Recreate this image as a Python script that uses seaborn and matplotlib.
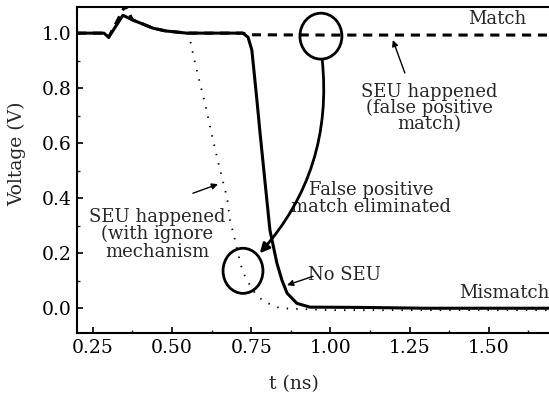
import numpy as np
import pandas as pd
import matplotlib
matplotlib.use("Agg")
import matplotlib.pyplot as plt
from matplotlib.patches import Ellipse
import seaborn as sns

# ---- data ----
t_noseu = [0.20, 0.285, 0.300, 0.345, 0.375, 0.408, 0.440, 0.480, 0.547, 0.724,
           0.740, 0.752, 0.768, 0.777, 0.793, 0.809, 0.831, 0.847, 0.863, 0.894,
           0.935, 1.10, 1.30, 1.69]
v_noseu = [1.0, 1.0, 0.985, 1.065, 1.048, 1.033, 1.018, 1.008, 1.0, 1.0,
           0.985, 0.938, 0.756, 0.647, 0.465, 0.284, 0.164, 0.102, 0.055, 0.018,
           0.004, 0.003, 0.0, 0.0]

t_fpm = [0.20, 0.285, 0.300, 0.352, 0.375, 0.408, 0.440, 0.480, 0.547, 0.72, 0.75, 1.00, 1.25, 1.69]
v_fpm = [1.0, 1.0, 0.985, 1.10, 1.048, 1.033, 1.018, 1.008, 1.0, 1.0, 0.994, 0.993, 0.993, 0.993]

t_ign = [0.547, 0.557, 0.572, 0.588, 0.604, 0.626, 0.642, 0.658, 0.674, 0.683,
         0.699, 0.715, 0.724, 0.740, 0.762, 0.778, 0.803, 0.841, 1.00, 1.69]
v_ign = [1.0, 0.975, 0.895, 0.818, 0.745, 0.629, 0.549, 0.473, 0.40, 0.32,
         0.247, 0.167, 0.131, 0.095, 0.055, 0.036, 0.018, 0.0, -0.007, -0.007]

xticks = [0.25, 0.50, 0.75, 1.00, 1.25, 1.50]
yticks = [0.0, 0.2, 0.4, 0.6, 0.8, 1.0]

sns.set_theme(style="ticks")
plt.rcParams['font.family'] = ['DejaVu Serif']
plt.rcParams['mathtext.fontset'] = 'dejavuserif'

fig = plt.figure(figsize=(5.49, 3.96), dpi=100)
ax = fig.add_axes([77/549, 63/396, 472/549, 326/396])

df_noseu = pd.DataFrame({"t": t_noseu, "v": v_noseu})
df_fpm = pd.DataFrame({"t": t_fpm, "v": v_fpm})
df_ign = pd.DataFrame({"t": t_ign, "v": v_ign})

sns.lineplot(data=df_ign, x="t", y="v", ax=ax, color="black", lw=1.3,
             linestyle=(0, (0.8, 4.5)), estimator=None, zorder=2)
sns.lineplot(data=df_fpm, x="t", y="v", ax=ax, color="black", lw=2.2,
             linestyle=(0, (3.0, 2.2)), estimator=None, zorder=3)
sns.lineplot(data=df_noseu, x="t", y="v", ax=ax, color="black", lw=2.2,
             estimator=None, zorder=4)

ax.set_xlim(0.20, 1.69)
ax.set_ylim(-0.09, 1.095)
ax.set_xticks(xticks)
ax.set_xticklabels([f"{x:.2f}" for x in xticks])
ax.set_xticks([0.375, 0.625, 0.875, 1.125, 1.375, 1.625], minor=True)
ax.set_yticks(yticks)
ax.set_yticklabels([f"{y:.1f}" for y in yticks])
ax.set_yticks([0.1, 0.3, 0.5, 0.7, 0.9], minor=True)
ax.tick_params(which="major", direction="in", length=4, width=1.2,
               labelsize=13.5, colors="black", pad=4)
ax.tick_params(which="minor", direction="in", length=2.5, width=1.0)
for s in ["left", "bottom", "top"]:
    ax.spines[s].set_linewidth(1.5)
    ax.spines[s].set_color("black")
ax.spines["right"].set_visible(False)

ax.set_xlabel("t (ns)", fontsize=13.5)
ax.set_ylabel("Voltage (V)", fontsize=13.5)
ax.xaxis.set_label_coords(0.46, -0.156)
ax.yaxis.set_label_coords(-0.127, 0.55)
ax.xaxis.label.set_va("center")
ax.yaxis.label.set_va("center")

fs = 13
ax.text(1.528, 1.052, "Match", fontsize=fs, ha="center", va="center")
ax.text(1.550, 0.055, "Mismatch", fontsize=fs, ha="center", va="center")
ax.text(1.311, 0.727, "SEU happened\n(false positive\nmatch)", fontsize=fs,
        ha="center", va="center", linespacing=0.85)
ax.annotate("", xy=(1.197, 0.975), xytext=(1.235, 0.855),
            arrowprops=dict(arrowstyle="-|>", color="black", lw=1.0,
                            mutation_scale=9, shrinkA=0, shrinkB=0))
ax.text(1.128, 0.40, "False positive\nmatch eliminated", fontsize=fs,
        ha="center", va="center", linespacing=0.95)
ax.text(0.453, 0.269, "SEU happened\n(with ignore\nmechanism", fontsize=fs,
        ha="center", va="center", linespacing=0.95)
ax.annotate("", xy=(0.645, 0.451), xytext=(0.566, 0.418),
            arrowprops=dict(arrowstyle="-|>", color="black", lw=1.0,
                            mutation_scale=9, shrinkA=0, shrinkB=0))
ax.text(1.046, 0.12, "No SEU", fontsize=fs, ha="center", va="center")
ax.annotate("", xy=(0.863, 0.084), xytext=(0.945, 0.116),
            arrowprops=dict(arrowstyle="-|>", color="black", lw=1.0,
                            mutation_scale=9, shrinkA=0, shrinkB=0))

ax.add_patch(Ellipse((0.970, 0.989), 0.1325, 0.167, fill=False,
                     edgecolor="black", lw=2.0, zorder=5))
ax.add_patch(Ellipse((0.724, 0.136), 0.126, 0.164, fill=False,
                     edgecolor="black", lw=2.0, zorder=5))
ax.annotate("", xy=(0.777, 0.20), xytext=(0.974, 0.905),
            arrowprops=dict(arrowstyle="-|>", color="black", lw=2.0,
                            mutation_scale=14, shrinkA=0, shrinkB=0,
                            connectionstyle="arc3,rad=-0.22"))

fig.savefig("out.png", dpi=100)
